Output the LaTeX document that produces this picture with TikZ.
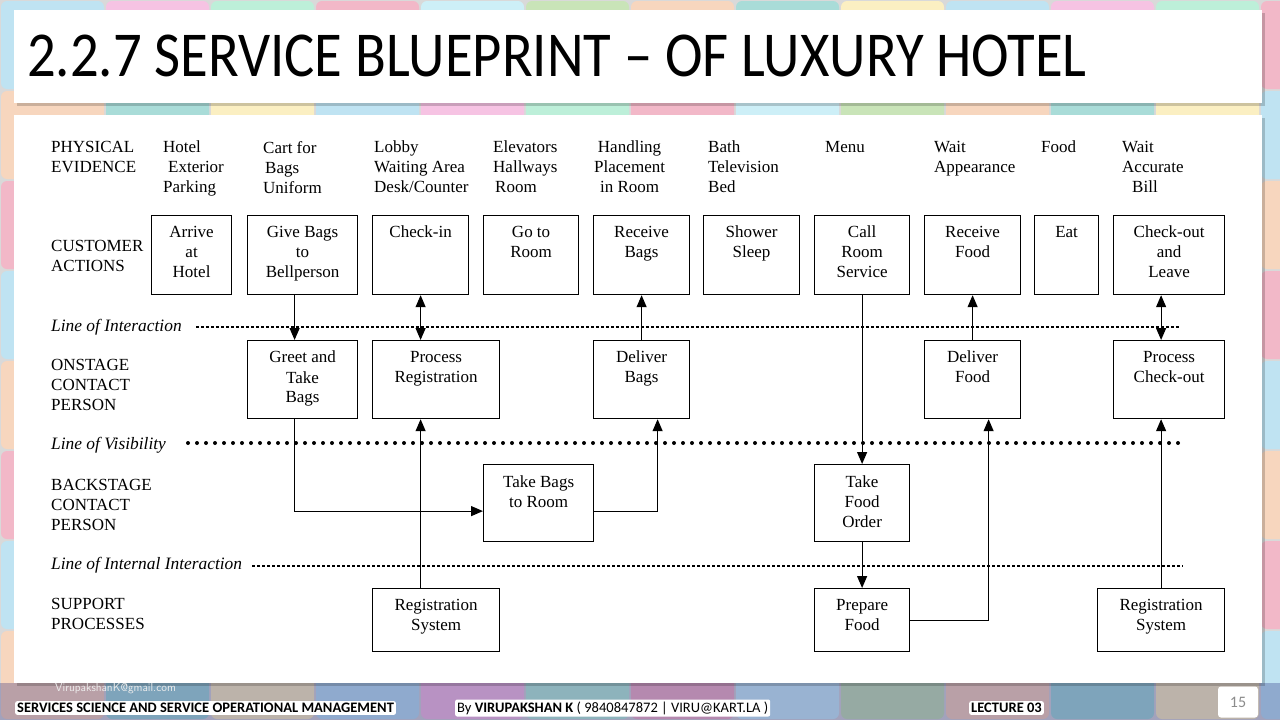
\documentclass[tikz,border=0pt]{standalone}
\usepackage{fontspec}
\setmainfont{Liberation Serif}
\newfontfamily\slidefont{Carlito}
\usetikzlibrary{arrows.meta}

\definecolor{tile0}{HTML}{BFE3F2}
\definecolor{tile1}{HTML}{BDEFD9}
\definecolor{tile2}{HTML}{CDEFF7}
\definecolor{tile3}{HTML}{F7D6BE}
\definecolor{tile4}{HTML}{FBEFC2}
\definecolor{tile5}{HTML}{F6C3E3}
\definecolor{tile6}{HTML}{F2B8C8}
\definecolor{tile7}{HTML}{C9E4B8}
\definecolor{tile8}{HTML}{A9DCD8}
\definecolor{pagegray}{HTML}{8C8C8C}

\tikzset{
  act/.style={draw, line width=1.2pt, anchor=north west, inner sep=0pt},
  boxtext/.style={anchor=north, align=center, inner sep=0pt, yshift=-11pt},
  rowname/.style={anchor=north west, align=left, inner sep=0pt},
  evidence/.style={anchor=north west, align=left, inner sep=0pt},
  lineof/.style={anchor=west, inner sep=0pt, font=\fontsize{17.4}{20}\selectfont\itshape},
  flow/.style={line width=1.2pt, -{Triangle[length=12pt,width=10pt]}},
  flowboth/.style={line width=1.2pt, {Triangle[length=12pt,width=10pt]}-{Triangle[length=12pt,width=10pt]}},
  footbox/.style={fill=white, rounded corners=2pt, anchor=west, inner sep=2pt,
    font=\slidefont\fontsize{14.5}{15}\selectfont}
}

\begin{document}
\begin{tikzpicture}[x=1pt, y=-1pt, font=\fontsize{17}{20}\selectfont]
\useasboundingbox (0,0) rectangle (1280,720);

% tiled background
\fill[gray!30] (0,0) rectangle (1280,720);
\foreach \i in {0,...,12}{
  \foreach \j in {0,...,8}{
    \pgfmathtruncatemacro\k{mod(\i*5+\j*3,9)}
    \fill[tile\k, rounded corners=6pt] (\i*105+1,\j*90+1) rectangle ++(103,88);
  }
}
\fill[blue!40!black, opacity=0.25] (0,683) rectangle (1280,720);

% title bar and panel
\fill[black, opacity=0.18] (17,13) rectangle (1265,106);
\fill[white] (14,10) rectangle (1262,103);
\node[anchor=west, inner sep=0pt, font=\slidefont\fontsize{64}{64}\selectfont] (title) at (27,56)
  {\scalebox{0.885}[1]{2.2.7 SERVICE BLUEPRINT – OF LUXURY HOTEL}};
\fill[black, opacity=0.18] (17,118) rectangle (1265,686);
\fill[white] (14,115) rectangle (1262,683);

% row names
\node[rowname] (rowPhys) at (51,141) {PHYSICAL\\EVIDENCE};
\node[rowname] (rowCust) at (51,240) {CUSTOMER\\ACTIONS};
\node[rowname] (rowOn) at (51,359) {ONSTAGE\\CONTACT\\PERSON};
\node[rowname] (rowBack) at (51,479) {BACKSTAGE\\CONTACT\\PERSON};
\node[rowname] (rowSupp) at (51,598) {SUPPORT\\PROCESSES};

% physical evidence
\node[evidence] (evHotel) at (163,141) {Hotel\\\hspace{5pt}Exterior\\Parking};
\node[evidence] (evCart) at (263,141) {Cart for\\\hspace{2pt}Bags\\Uniform};
\node[evidence] (evLobby) at (374,141) {Lobby\\Waiting Area\\Desk/Counter};
\node[evidence] (evElev) at (493,141) {Elevators\\Hallways\\\hspace{2pt}Room};
\node[evidence, align=center] (evHand) at (594,141) {Handling\\Placement\\in Room};
\node[evidence] (evBath) at (708,141) {Bath\\Television\\Bed};
\node[evidence] (evMenu) at (825,141) {Menu};
\node[evidence] (evWait) at (934,141) {Wait\\Appearance};
\node[evidence] (evFood) at (1041,141) {Food};
\node[evidence] (evBill) at (1122,141) {Wait\\Accurate\\\hspace{10pt}Bill};

% customer actions
\node[act, minimum width=80pt, minimum height=79pt, label={[boxtext]north:{Arrive\\at\\Hotel}}] (arrive) at (151,215) {};
\node[act, minimum width=110pt, minimum height=79pt, label={[boxtext]north:{Give Bags\\to\\Bellperson}}] (giveBags) at (247,215) {};
\node[act, minimum width=96pt, minimum height=79pt, label={[boxtext]north:{Check-in}}] (checkIn) at (372,215) {};
\node[act, minimum width=95pt, minimum height=79pt, label={[boxtext]north:{Go to\\Room}}] (goRoom) at (483,215) {};
\node[act, minimum width=96pt, minimum height=79pt, label={[boxtext]north:{Receive\\Bags}}] (recvBags) at (593,215) {};
\node[act, minimum width=96pt, minimum height=79pt, label={[boxtext]north:{Shower\\Sleep}}] (shower) at (703,215) {};
\node[act, minimum width=95pt, minimum height=79pt, label={[boxtext]north:{Call\\Room\\Service}}] (callRoom) at (814,215) {};
\node[act, minimum width=96pt, minimum height=79pt, label={[boxtext]north:{Receive\\Food}}] (recvFood) at (924,215) {};
\node[act, minimum width=64pt, minimum height=79pt, label={[boxtext]north:{Eat}}] (eat) at (1034,215) {};
\node[act, minimum width=111pt, minimum height=79pt, label={[boxtext]north:{Check-out\\and\\Leave}}] (checkOut) at (1113,215) {};

% onstage
\node[act, minimum width=110pt, minimum height=78pt, label={[boxtext]north:{Greet and\\Take\\Bags}}] (greet) at (247,340) {};
\node[act, minimum width=127pt, minimum height=78pt, label={[boxtext]north:{Process\\Registration}}] (procReg) at (372,340) {};
\node[act, minimum width=96pt, minimum height=78pt, label={[boxtext]north:{Deliver\\Bags}}] (delBags) at (593,340) {};
\node[act, minimum width=96pt, minimum height=78pt, label={[boxtext]north:{Deliver\\Food}}] (delFood) at (924,340) {};
\node[act, minimum width=111pt, minimum height=78pt, label={[boxtext]north:{Process\\Check-out}}] (procOut) at (1113,340) {};

% backstage
\node[act, minimum width=110pt, minimum height=77pt, label={[boxtext]north:{Take Bags\\to Room}}] (takeBags) at (483,464) {};
\node[act, minimum width=95pt, minimum height=77pt, label={[boxtext]north:{Take\\Food\\Order}}] (takeOrder) at (814,464) {};

% support
\node[act, minimum width=127pt, minimum height=63pt, label={[boxtext]north:{Registration\\System}}] (regSysA) at (372,588) {};
\node[act, minimum width=95pt, minimum height=63pt, label={[boxtext]north:{Prepare\\Food}}] (prepFood) at (814,588) {};
\node[act, minimum width=127pt, minimum height=63pt, label={[boxtext]north:{Registration\\System}}] (regSysB) at (1097,588) {};

% the three lines
\node[lineof] (lnInter) at (51,327) {Line of Interaction};
\coordinate (interStart) at (196,327);
\coordinate (interEnd) at (1180,327);
\draw[line width=1.1pt, dash pattern=on 3pt off 2pt] (interStart) -- (interEnd);
\node[lineof] (lnVis) at (51,445) {Line of Visibility};
\coordinate (visStart) at (188,443);
\coordinate (visEnd) at (1181,443);
\draw[line width=4pt, dash pattern=on 0pt off 9pt, line cap=round] (visStart) -- (visEnd);
\node[lineof] (lnInt) at (51,565) {Line of Internal Interaction};
\coordinate (intStart) at (252,566);
\coordinate (intEnd) at (1183,566);
\draw[line width=1.1pt, dash pattern=on 3pt off 2pt] (intStart) -- (intEnd);

% connectors
\draw[flow] ([xshift=-8pt]giveBags.south) -- ([xshift=-8pt]greet.north);
\draw[flowboth] (checkIn.south) -- (checkIn.south |- procReg.north);
\draw[flow] (delBags.north) -- (recvBags.south);
\draw[flow] (callRoom.south) -- (takeOrder.north);
\draw[flow] (delFood.north) -- (recvFood.south);
\draw[flowboth] (checkOut.south -| regSysB.north) -- (procOut.north -| regSysB.north);
\draw[flow] ([xshift=-8pt]greet.south) |- ([yshift=-8pt]takeBags.west);
\draw[flow] (regSysA.north -| checkIn.south) -- (procReg.south -| checkIn.south);
\draw[flow] ([yshift=-8pt]takeBags.east) -| ([xshift=16pt]delBags.south);
\draw[flow] (takeOrder.south) -- (prepFood.north);
\draw[flow] (prepFood.east) -| ([xshift=16pt]delFood.south);
\draw[flow] (regSysB.north) -- (regSysB.north |- procOut.south);

% footer
\node[anchor=west, inner sep=0pt, text=white!85!gray, font=\sffamily\fontsize{11.5}{12}\selectfont] (mail) at (55,689) {VirupakshanK@gmail.com};
\node[footbox] (course) at (15,708) {\bfseries SERVICES SCIENCE AND SERVICE OPERATIONAL MANAGEMENT};
\node[footbox] (byline) at (455,708) {By \textbf{VIRUPAKSHAN K} ( 9840847872 | VIRU@KART.LA )};
\node[footbox] (lecture) at (969,708) {\bfseries LECTURE 03};
\node[fill=white, rounded corners=3pt, minimum width=40pt, minimum height=31pt, text=pagegray,
  font=\slidefont\fontsize{16}{16}\selectfont] (pageNo) at (1238,702) {15};
\end{tikzpicture}
\end{document}
